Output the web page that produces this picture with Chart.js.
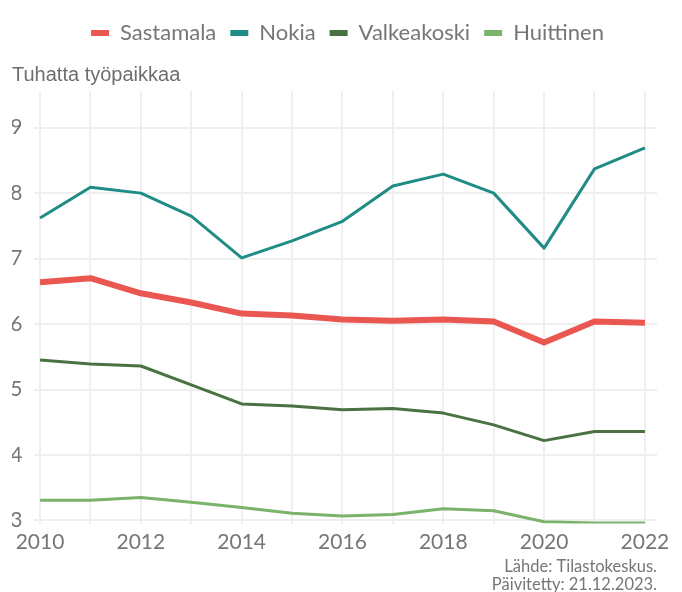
<!DOCTYPE html>
<html>
<head>
<meta charset="utf-8">
<script src="https://cdn.jsdelivr.net/npm/chart.js@4/dist/chart.umd.min.js"></script>
<style>
  html, body { margin: 0; padding: 0; background: #fff; }
  #wrap { width: 682px; height: 592px; position: relative; }
</style>
</head>
<body>
<div id="wrap"><canvas id="chart"></canvas></div>
<script>
// years on x axis, values in thousands of jobs
const years = [2010, 2011, 2012, 2013, 2014, 2015, 2016, 2017, 2018, 2019, 2020, 2021, 2022];
const sastamala = [6.64, 6.70, 6.47, 6.33, 6.16, 6.13, 6.07, 6.05, 6.07, 6.04, 5.72, 6.04, 6.02];
const nokia = [7.62, 8.09, 8.00, 7.65, 7.01, 7.27, 7.57, 8.11, 8.29, 8.00, 7.16, 8.37, 8.69];
const valkeakoski = [5.45, 5.39, 5.36, 5.07, 4.78, 4.75, 4.69, 4.71, 4.64, 4.46, 4.22, 4.36, 4.36];
const huittinen = [3.31, 3.31, 3.35, 3.28, 3.20, 3.11, 3.07, 3.09, 3.18, 3.15, 2.98, 2.96, 2.96];
const yTicks = [3, 4, 5, 6, 7, 8, 9];
const yTitle = "Tuhatta työpaikkaa";
const sourceLines = ["Lähde: Tilastokeskus.", "Päivitetty: 21.12.2023."];

const grey = "#767676";
const gridCol = "#efefef";

function series(label, vals, color, width) {
    return {
        label: label,
        data: years.map((y, i) => ({ x: y, y: vals[i] })),
        borderColor: color,
        backgroundColor: color,
        borderWidth: width,
        pointRadius: 0,
        tension: 0,
        borderJoinStyle: "round"
    };
}

// legend sits centred on the whole page, not between the paddings
const shiftLegend = {
    id: "shiftLegend",
    afterLayout(chart) {
        if (chart.legend) {
            chart.legend.left += 13;
            chart.legend.right += 13;
        }
    }
};

new Chart(document.getElementById("chart"), {
    type: "line",
    data: {
        datasets: [
            series("Sastamala", sastamala, "#ea5650", 6),
            series("Nokia", nokia, "#1f8c86", 3),
            series("Valkeakoski", valkeakoski, "#4a7141", 3),
            series("Huittinen", huittinen, "#7ab36a", 3)
        ]
    },
    plugins: [shiftLegend],
    options: {
        responsive: true,
        maintainAspectRatio: false,
        animation: false,
        layout: { padding: { left: 12, right: 25, top: 8, bottom: 0 } },
        plugins: {
            tooltip: { enabled: false },
            legend: {
                position: "top",
                weight: 3000,
                labels: {
                    boxWidth: 18,
                    boxHeight: 6,
                    padding: 14,
                    color: grey,
                    font: { family: "Lato", size: 22 },
                    generateLabels: (chart) => Chart.defaults.plugins.legend.labels.generateLabels(chart).map((l) => {
                        l.fillStyle = l.strokeStyle;
                        l.lineWidth = 0;
                        return l;
                    })
                }
            },
            title: {
                display: true,
                text: yTitle,
                align: "start",
                color: "#6e6e6e",
                font: { family: "Liberation Sans", size: 20, weight: "normal" },
                padding: { top: 9, bottom: 4 }
            },
            subtitle: {
                display: true,
                position: "bottom",
                text: sourceLines,
                align: "end",
                color: grey,
                font: { family: "Lato", size: 16.5, lineHeight: 1.1 },
                padding: { top: -3, bottom: -2 }
            }
        },
        scales: {
            x: {
                type: "linear",
                min: 2009.87,
                max: 2022.24,
                afterBuildTicks: (s) => { s.ticks = years.map((v) => ({ value: v })); },
                ticks: {
                    autoSkip: false,
                    maxRotation: 0,
                    padding: 6,
                    color: grey,
                    font: { family: "Lato", size: 21 },
                    callback: (v) => (v % 2 === 0 ? String(v) : "")
                },
                grid: { color: gridCol, lineWidth: 2, drawTicks: false },
                border: { display: false }
            },
            y: {
                min: 2.954,
                max: 9.56,
                afterBuildTicks: (s) => { s.ticks = yTicks.map((v) => ({ value: v })); },
                afterFit: (s) => { s.width = 21.5; },
                ticks: {
                    padding: 11,
                    color: grey,
                    font: { family: "Lato", size: 21 }
                },
                grid: { color: gridCol, lineWidth: 2, drawTicks: false },
                border: { display: false }
            }
        }
    }
});
</script>
</body>
</html>
